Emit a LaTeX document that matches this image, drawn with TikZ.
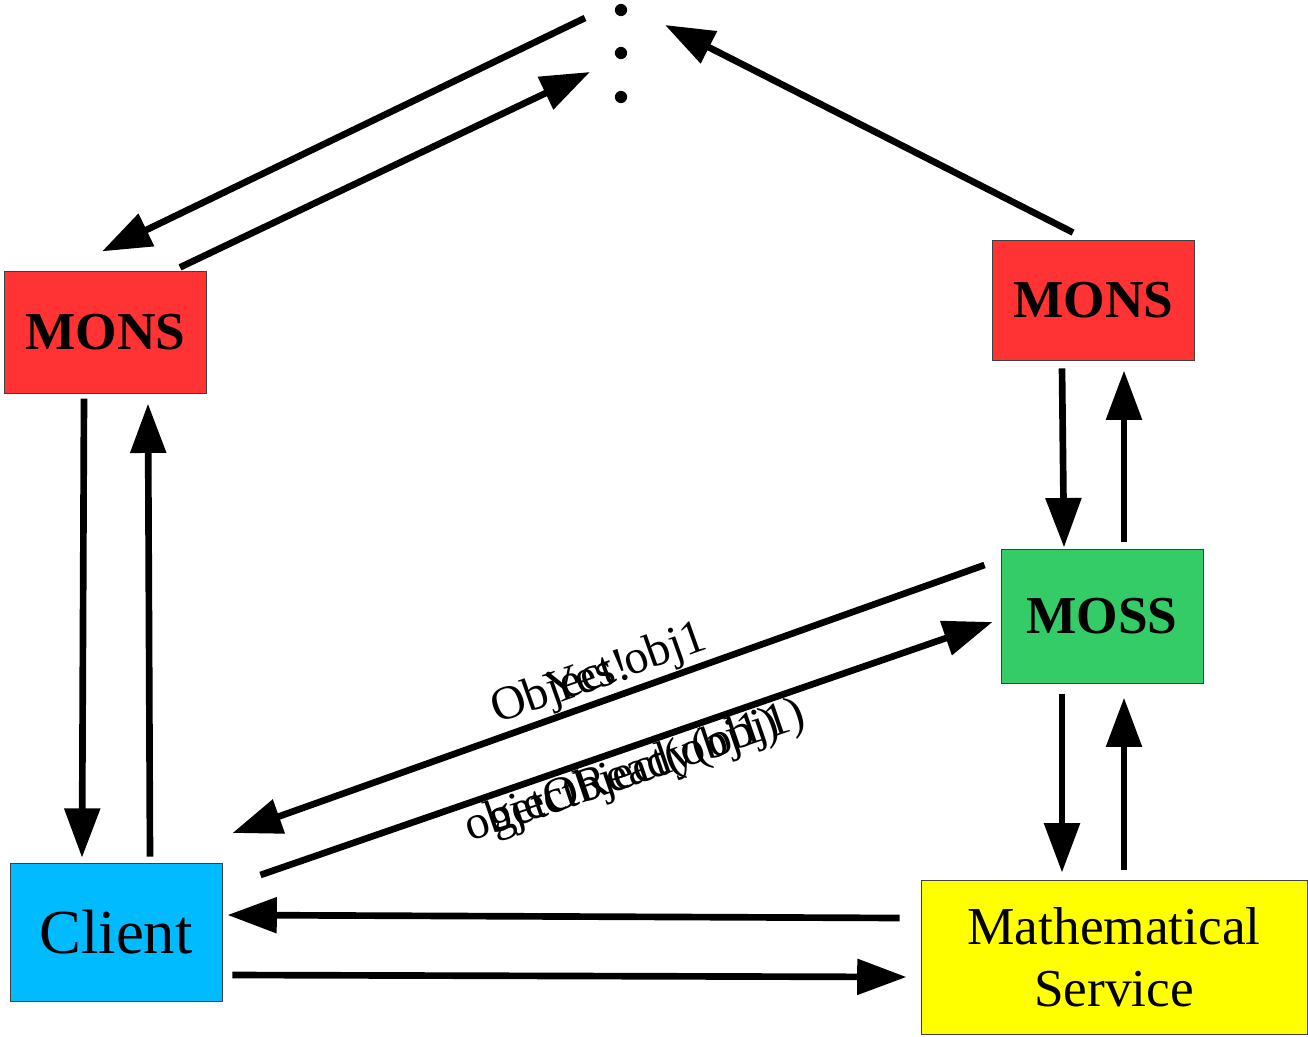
\documentclass[tikz,border=0pt]{standalone}
\usepackage{fontspec}
\setmainfont{Liberation Serif}
\usetikzlibrary{arrows.meta,calc}
\definecolor{monsred}{HTML}{FF3333}
\definecolor{mossgreen}{HTML}{33CC66}
\definecolor{clientblue}{HTML}{00BBFF}
\definecolor{mathyellow}{HTML}{FFFF00}
\begin{document}
\begin{tikzpicture}[x=0.75pt,y=-0.75pt,
  box/.style={draw=black!75,line width=0.7pt,inner sep=0pt,align=center},
  arr/.style={line width=5pt,-{Triangle[length=37pt,width=26pt]}},
  lbl/.style={font=\fontsize{36}{40}\selectfont,inner sep=0pt}]
\useasboundingbox (0,0) rectangle (1308,1037);
\node[box,fill=monsred,minimum width=151pt,minimum height=91pt,font=\fontsize{40}{44}\selectfont\bfseries] (lmons) at (105.5,332.5) {MONS};
\node[box,fill=monsred,minimum width=151pt,minimum height=90pt,font=\fontsize{40}{44}\selectfont\bfseries] (rmons) at (1093.5,300) {MONS};
\node[box,fill=mossgreen,minimum width=151.5pt,minimum height=100pt,font=\fontsize{40}{44}\selectfont\bfseries] (moss) at (1102,616.5) {MOSS};
\node[box,fill=clientblue,minimum width=159pt,minimum height=104pt,font=\fontsize{47}{50}\selectfont] (client) at (116,932.5) {Client};
\node[box,fill=mathyellow,minimum width=289.5pt,minimum height=115.5pt,font=\fontsize{40}{46.5}\selectfont] (math) at (1114,957) {Mathematical\\Service};
\node[minimum size=10pt,inner sep=0pt] (dots) at (621,53) {};
\fill (621,10) circle (4.6pt);
\fill (dots.center) circle (4.6pt);
\fill (621,97) circle (4.6pt);
% arrows
\draw[arr] ($(dots.center)+(-36,-35)$) -- ($(lmons.north)+(-3.5,-20)$);
\draw[arr] ($(lmons.north)+(74.5,-4)$) -- ($(dots.center)+(-31,19)$);
\draw[arr] ($(rmons.north)+(-20.5,-7)$) -- ($(dots.center)+(44,-28)$);
\draw[arr] ($(lmons.south)+(-21.5,5)$) -- ($(client.north)+(-34,-5)$);
\draw[arr] ($(client.north)+(34,-6)$) -- ($(lmons.south)+(42.5,10)$);
\draw[arr] ($(rmons.south)+(-31.5,8)$) -- ($(moss.north)+(-38,-2)$);
\draw[arr] ($(moss.north)+(22,-7)$) -- ($(rmons.south)+(30.5,10)$);
\draw[arr] ($(moss.south)+(-40,10)$) -- ($(math.north)+(-52,-7)$);
\draw[arr] ($(math.north)+(10,-10)$) -- ($(moss.south)+(22,14)$);
\draw[arr] ($(moss.west)+(-16,-51.5)$) -- ($(client.east)+(10,-99.5)$);
\draw[arr] ($(client.east)+(38,-57.5)$) -- ($(moss.west)+(-8,5.5)$);
\draw[arr] ($(math.west)+(-21,-39)$) -- ($(client.east)+(5,-17.5)$);
\draw[arr] ($(client.east)+(10,42.5)$) -- ($(math.west)+(-14,20)$);
% labels
\node[lbl,rotate=19.6,anchor=base west] (l1) at (497,724) {Object obj1};
\node[lbl,rotate=19.6,anchor=base west] (l2) at (552,706) {Yes!};
\node[lbl,rotate=19,anchor=base west] (l3) at (470,842) {objectReady(obj1)};
\node[lbl,rotate=19,anchor=base west] (l4) at (494,834) {getObject(obj1)};
\end{tikzpicture}
\end{document}
